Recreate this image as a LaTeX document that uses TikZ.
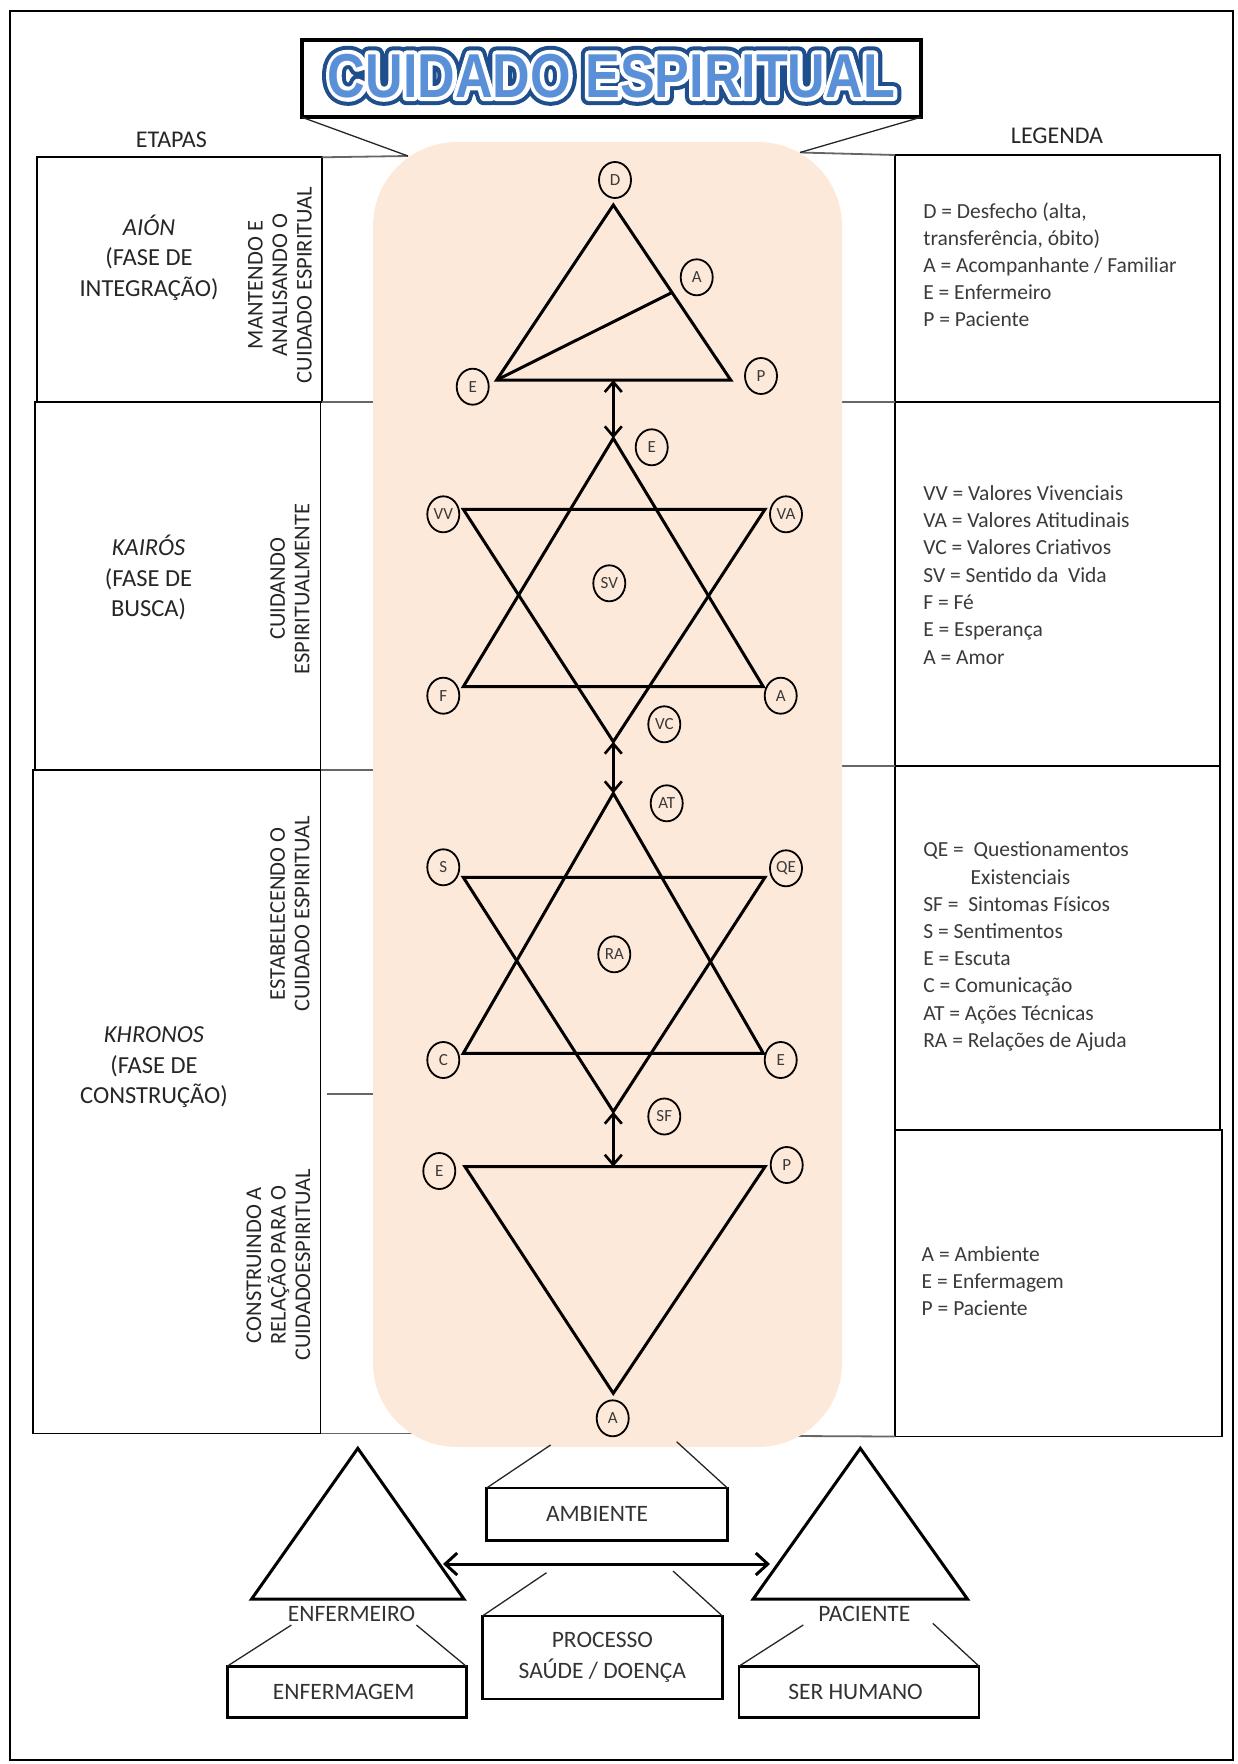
\documentclass[tikz,border=0pt]{standalone}
\usepackage{fontspec}
\setmainfont{Carlito}
\newfontfamily\ttlfill[FakeStretch=0.84]{Liberation Sans}
\newfontfamily\ttlrimout[FakeStretch=0.84,BoldFeatures={FakeBold=26}]{Liberation Sans}
\newfontfamily\ttlrimin[FakeStretch=0.84,BoldFeatures={FakeBold=13}]{Liberation Sans}
\usetikzlibrary{arrows.meta,shapes.geometric}

\definecolor{peach}{HTML}{FDE9D9}
\definecolor{titledark}{HTML}{1F4E8C}
\definecolor{titlefill}{HTML}{5A90D8}
\definecolor{inkgray}{HTML}{3A3A3A}

\begin{document}
\begin{tikzpicture}[x=1pt,y=-1pt,
  every node/.style={inner sep=0pt,outer sep=0pt},
  frameline/.style={draw=black,line width=2.4pt},
  cell/.style={draw=black,line width=1.8pt},
  joinline/.style={draw=black!60,line width=1.8pt},
  pointer/.style={draw=black!85,line width=1.3pt},
  figline/.style={draw=black,line width=3pt,line join=miter,miter limit=20},
  linkarrow/.style={draw=black,line width=2.6pt,
     {Straight Barb[length=10pt,width=17pt]}-{Straight Barb[length=10pt,width=17pt]}},
  bigarrow/.style={draw=black,line width=3pt,
     {Straight Barb[length=12pt,width=22pt]}-{Straight Barb[length=12pt,width=22pt]}},
  tagnode/.style={ellipse,draw=black,line width=1.8pt,minimum width=32pt,minimum height=36pt,
     font=\fontsize{17}{17}\selectfont,text=inkgray},
  headtext/.style={font=\fontsize{24}{28}\selectfont,text=black!85},
  phasetext/.style={font=\fontsize{24.5}{28}\selectfont,text=black!85,anchor=base},
  sidetext/.style={font=\fontsize{22.5}{24.5}\selectfont,text=black!85,rotate=90,align=center},
  legtext/.style={font=\fontsize{21.5}{27}\selectfont,text=inkgray,anchor=base west},
  labelbox/.style={draw=black,line width=2.7pt,font=\fontsize{23.5}{30.5}\selectfont,
     text=black!80,align=center},
  captext/.style={font=\fontsize{23.5}{28}\selectfont,text=black!80},
  titlelayer/.style={line join=round,line cap=round},
  ]

\useasboundingbox (0,0) rectangle (1237,1764);
\draw[frameline] (10,11) rectangle (1233,1760);

% ---- title banner ----
\node[draw=black,line width=4pt,fill=white,minimum width=618.7pt,minimum height=77pt]
  (title) at (611.4,78.8) {};
\begin{scope}[line join=round]
\pgfsetroundjoin
\node[titlelayer,text=titledark,font=\ttlrimout\bfseries\fontsize{62}{62}\selectfont]
  (ttlA) at (611.5,75.8) {\pgfsetroundjoin CUIDADO ESPIRITUAL};
\node[titlelayer,text=white,font=\ttlrimin\bfseries\fontsize{62}{62}\selectfont]
  (ttlB) at (611.5,75.8) {\pgfsetroundjoin CUIDADO ESPIRITUAL};
\node[titlelayer,text=titlefill,font=\ttlfill\bfseries\fontsize{62}{62}\selectfont]
  (ttlC) at (611.5,75.8) {CUIDADO ESPIRITUAL};
\end{scope}

\coordinate (ttlL) at (408,156);
\coordinate (ttlR) at (800,152.5);

% ---- stage table (left) and legend table (right) ----
\node[cell,minimum width=285pt,minimum height=244.7pt] (etapa1) at (179.2,279.65) {};
\node[cell,minimum width=285.5pt,minimum height=368pt] (etapa2) at (177.75,586) {};
\node[cell,minimum width=287.5pt,minimum height=663.5pt] (etapa3) at (176.75,1101.75) {};
\node[cell,minimum width=325pt,minimum height=247pt] (leg1) at (1057.5,278.5) {};
\node[cell,minimum width=325pt,minimum height=364pt] (leg2) at (1057.5,584) {};
\node[cell,minimum width=325pt,minimum height=364pt] (leg3) at (1057.5,948) {};
\node[cell,minimum width=327pt,minimum height=306.5pt] (leg4) at (1058.5,1283.25) {};

\coordinate (midL) at (326.7,1094);
\coordinate (botL) at (414,1433.5);
\coordinate (botR) at (796,1436);

\draw[joinline] (etapa1.north east) -- (ttlL);
\draw[joinline] (leg1.north west) -- (ttlR);
\draw[joinline] (etapa1.south east) -- +(60,0);
\draw[joinline] (etapa2.south east) -- +(60,0);
\draw[joinline] (midL) -- +(55,0);
\draw[joinline] (etapa3.south east) -- (botL);
\draw[joinline] (leg1.south west) -- +(-60,0);
\draw[joinline] (leg2.south west) -- +(-60,0);
\draw[joinline] (leg4.south west) -- (botR);
\draw[pointer] (title.south west) -- (ttlL);
\draw[pointer] (title.south east) -- (ttlR);

% ---- central band ----
\node[fill=peach,rounded corners=84pt,minimum width=469pt,minimum height=1305pt]
  (band) at (607.5,794.5) {};

% ---- headings ----
\node[headtext] (etapas) at (171.3,139.3) {ETAPAS};
\node[headtext] (legenda) at (1057,136) {LEGENDA};

% ---- phase names ----
\node[phasetext] (aion1) at (149,{257.5-30.5+8}) {\itshape AIÓN};
\node[phasetext] (aion2) at (149,{257.5+8}) {(FASE DE};
\node[phasetext] (aion3) at (149,{257.5+30.5+8}) {INTEGRAÇÃO)};
\node[phasetext] (kai1) at (148.5,{578-30.5+8}) {\itshape KAIRÓS};
\node[phasetext] (kai2) at (148.5,{578+8}) {(FASE DE};
\node[phasetext] (kai3) at (148.5,{578+30.5+8}) {BUSCA)};
\node[phasetext] (khr1) at (154,{1065-30.5+8}) {\itshape KHRONOS};
\node[phasetext] (khr2) at (154,{1065+8}) {(FASE DE};
\node[phasetext] (khr3) at (154,{1065+30.5+8}) {CONSTRUÇÃO)};

\node[sidetext] (side1) at (280,285) {MANTENDO E\\ANALISANDO O\\CUIDADO ESPIRITUAL};
\node[sidetext] (side2) at (290,589) {CUIDANDO\\ESPIRITUALMENTE};
\node[sidetext] (side3) at (290,913.7) {ESTABELECENDO O\\CUIDADO ESPIRITUAL};
\node[sidetext] (side4) at (278.3,1265) {CONSTRUINDO A\\RELAÇÃO PARA O\\CUIDADOESPIRITUAL};

% ---- legend texts ----
\foreach \txt [count=\i] in {{D = Desfecho (alta,},{transferência, óbito)},
    {A = Acompanhante / Familiar},{E = Enfermeiro},{P = Paciente}}
  \node[legtext] (legA\i) at (923.3,{218.5+26.9*(\i-1)}) {\txt};
\foreach \txt [count=\i] in {{VV = Valores Vivenciais},{VA = Valores Atitudinais},
    {VC = Valores Criativos},{SV = Sentido da\ \ Vida},{F = Fé},{E = Esperança},{A = Amor}}
  \node[legtext] (legB\i) at (923.3,{500.3+27.3*(\i-1)}) {\txt};
\node[legtext] (legC1) at (923.3,856.8) {QE = \ Questionamentos};
\node[legtext] (legC2) at (970.7,{856.8+27.2}) {Existenciais};
\foreach \txt [count=\i from 3] in {{SF = \ Sintomas Físicos},{S = Sentimentos},{E = Escuta},
    {C = Comunicação},{AT = Ações Técnicas},{RA = Relações de Ajuda}}
  \node[legtext] (legC\i) at (923.3,{856.8+27.2*(\i-1)}) {\txt};
\foreach \txt [count=\i] in {{A = Ambiente},{E = Enfermagem},{P = Paciente}}
  \node[legtext] (legD\i) at (921.7,{1261+27*(\i-1)}) {\txt};

% ---- top triangle ----
\coordinate (t1a) at (613.3,205);
\coordinate (t1l) at (496.7,380);
\coordinate (t1r) at (730.7,380);
\coordinate (t1m) at (672,292.5);
\coordinate (t1b) at (613.3,380);
\draw[figline] (t1a) -- (t1l) -- (t1r) -- cycle;
\draw[figline] (t1l) -- (t1m);

% ---- first star ----
\coordinate (s1u) at (613.3,438.3);
\coordinate (s1ul) at (463.3,686.7);
\coordinate (s1ur) at (763.3,686.7);
\coordinate (s1dl) at (463.3,509.3);
\coordinate (s1dr) at (765,509.3);
\coordinate (s1d) at (613.3,741.7);
\draw[figline] (s1u) -- (s1ul) -- (s1ur) -- cycle;
\draw[figline] (s1dl) -- (s1dr) -- (s1d) -- cycle;

% ---- second star ----
\coordinate (s2u) at (613.3,793.3);
\coordinate (s2ul) at (463.3,1053.3);
\coordinate (s2ur) at (763.3,1053.3);
\coordinate (s2dl) at (463.3,877.3);
\coordinate (s2dr) at (765,877.3);
\coordinate (s2d) at (613.3,1111.7);
\draw[figline] (s2u) -- (s2ul) -- (s2ur) -- cycle;
\draw[figline] (s2dl) -- (s2dr) -- (s2d) -- cycle;

% ---- bottom triangle ----
\coordinate (b1l) at (465,1166.7);
\coordinate (b1r) at (765,1166.7);
\coordinate (b1a) at (613.3,1393.3);
\coordinate (b1t) at (613.3,1166.7);
\draw[figline] (b1l) -- (b1r) -- (b1a) -- cycle;

% ---- links between the figures ----
\draw[linkarrow] (t1b) -- (s1u);
\draw[linkarrow] (s1d) -- (s2u);
\draw[linkarrow] (s2d) -- (b1t);

% ---- vertex tags ----
\node[tagnode] (tD) at (615,180) {D};
\node[tagnode] (tA1) at (696.7,277.3) {A};
\node[tagnode] (tE1) at (472.7,386.7) {E};
\node[tagnode] (tP1) at (761,376) {P};

\node[tagnode] (tE2) at (651.7,447.3) {E};
\node[tagnode] (tVV) at (443.3,514.3) {VV};
\node[tagnode] (tVA) at (786,514.3) {VA};
\node[tagnode] (tSV) at (609.3,583.3) {SV};
\node[tagnode] (tF) at (443.3,695.7) {F};
\node[tagnode] (tA2) at (780.7,695.7) {A};
\node[tagnode] (tVC) at (664.3,724.3) {VC};

\node[tagnode] (tAT) at (666.7,803.3) {AT};
\node[tagnode] (tS) at (443.3,867.3) {S};
\node[tagnode] (tQE) at (786,868.3) {QE};
\node[tagnode] (tRA) at (614.3,954.3) {RA};
\node[tagnode] (tC) at (443.3,1060) {C};
\node[tagnode] (tE3) at (780.7,1060) {E};
\node[tagnode] (tSF) at (664.3,1116.5) {SF};

\node[tagnode] (tE4) at (439.3,1171) {E};
\node[tagnode] (tP4) at (786.7,1165) {P};
\node[tagnode] (tA4) at (612.7,1418.3) {A};

% ---- lower scheme ----
\coordinate (n1a) at (357.8,1448.3);
\coordinate (n1l) at (251.6,1599);
\coordinate (n1r) at (463.9,1599);
\coordinate (p1a) at (860.3,1448.3);
\coordinate (p1l) at (753.2,1599);
\coordinate (p1r) at (967.4,1599);
\draw[figline] (n1a) -- (n1l) -- (n1r) -- cycle;
\draw[figline] (p1a) -- (p1l) -- (p1r) -- cycle;
\coordinate (hl) at (443,1564);
\coordinate (hr) at (770,1564);
\draw[bigarrow] (hl) -- (hr);

\node[captext] (enfermeiro) at (351.6,1614) {ENFERMEIRO};
\node[captext] (paciente) at (864.4,1614) {PACIENTE};

\node[labelbox,minimum width=240.8pt,minimum height=52.4pt] (ambiente) at (607,1514.2) {\hspace*{-20pt}AMBIENTE};
\node[labelbox,minimum width=240pt,minimum height=83pt] (processo) at (602.4,1657.5) {PROCESSO\\SAÚDE / DOENÇA};
\node[labelbox,minimum width=239pt,minimum height=51pt] (enfermagem) at (346.7,1691.7) {\hspace*{-6pt}ENFERMAGEM};
\node[labelbox,minimum width=240pt,minimum height=51pt] (serhumano) at (859,1691.7) {\hspace*{-7pt}SER HUMANO};

\coordinate (ambL) at (550.6,1445);
\coordinate (ambR) at (676.6,1441.7);
\coordinate (proL) at (546.5,1572.7);
\coordinate (proR) at (673,1571);
\coordinate (enfL) at (291.4,1625);
\coordinate (enfR) at (416.4,1625);
\coordinate (serL) at (803.2,1625);
\coordinate (serR) at (932.8,1623.3);
\draw[pointer] (ambiente.north west) -- (ambL);
\draw[pointer] (ambiente.north east) -- (ambR);
\draw[pointer] (processo.north west) -- (proL);
\draw[pointer] (processo.north east) -- (proR);
\draw[pointer] (enfermagem.north west) -- (enfL);
\draw[pointer] (enfermagem.north east) -- (enfR);
\draw[pointer] (serhumano.north west) -- (serL);
\draw[pointer] (serhumano.north east) -- (serR);

\end{tikzpicture}
\end{document}
